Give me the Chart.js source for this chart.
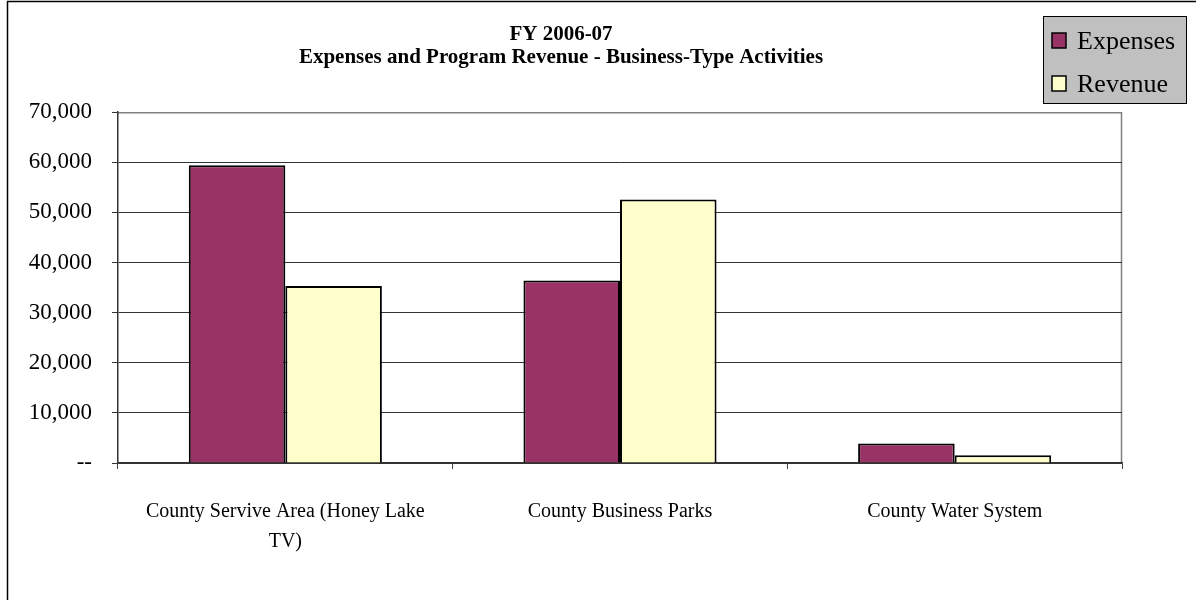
<!DOCTYPE html>
<html>
<head>
<meta charset="utf-8">
<script src="https://cdn.jsdelivr.net/npm/chart.js"></script>
<style>
  html, body { margin: 0; padding: 0; background: #fff; }
  #wrap { position: relative; width: 1196px; height: 600px; }
</style>
</head>
<body>
<div id="wrap"><canvas id="bizChart" width="1196" height="600"></canvas></div>
<script>
// data
const categories = [
  ['County Servive Area (Honey Lake', 'TV)'],
  'County Business Parks',
  'County Water System'
];
const expenses = [59400, 36400, 3900];
const revenue = [35300, 52600, 1550];
const titleLines = ['FY 2006-07', 'Expenses and Program Revenue - Business-Type Activities'];

const serif = '"Liberation Serif", "Times New Roman", serif';

// white background + outer frame
const framePlugin = {
  id: 'frame',
  beforeDraw(chart) {
    const c = chart.ctx;
    c.save();
    c.fillStyle = '#fff';
    c.fillRect(0, 0, chart.width, chart.height);
    c.strokeStyle = '#000';
    c.lineWidth = 1.5;
    c.beginPath();
    c.moveTo(7.5, chart.height);
    c.lineTo(7.5, 1.5);
    c.lineTo(chart.width, 1.5);
    c.stroke();
    // plot area border (right side, grey)
    const a = chart.chartArea;
    c.strokeStyle = '#808080';
    c.lineWidth = 1.5;
    c.beginPath();
    c.moveTo(a.left, a.top + 0.5);
    c.lineTo(a.right - 0.5, a.top + 0.5);
    c.lineTo(a.right - 0.5, a.bottom);
    c.stroke();
    c.restore();
  }
};

// boxed legend in the top right corner
const boxLegend = {
  id: 'boxLegend',
  afterDraw(chart) {
    const c = chart.ctx;
    const x = 1043, y = 16, w = 143, h = 87;
    c.save();
    c.fillStyle = '#C0C0C0';
    c.fillRect(x, y, w, h);
    c.strokeStyle = '#000';
    c.lineWidth = 1;
    c.strokeRect(x + 0.5, y + 0.5, w, h);
    c.font = '26px ' + serif;
    c.textBaseline = 'middle';
    chart.data.datasets.forEach((ds, i) => {
      const cy = 41 + i * 43;
      c.fillStyle = ds.backgroundColor;
      c.fillRect(1052, cy - 8, 14, 15);
      c.lineWidth = 1.5;
      c.strokeStyle = '#000';
      c.strokeRect(1052, cy - 8, 14, 15);
      c.fillStyle = '#000';
      c.fillText(ds.label, 1077, cy + 1);
    });
    c.restore();
  }
};

new Chart(document.getElementById('bizChart'), {
  type: 'bar',
  data: {
    labels: categories,
    datasets: [
      { label: 'Expenses', data: expenses, backgroundColor: '#993366', borderColor: '#000', borderWidth: 2 },
      { label: 'Revenue', data: revenue, backgroundColor: '#FFFFCC', borderColor: '#000', borderWidth: 2 }
    ]
  },
  options: {
    responsive: false,
    animation: false,
    events: [],
    layout: { padding: { left: 0, right: 74, top: 0, bottom: 0 } },
    datasets: { bar: { categoryPercentage: 0.577, barPercentage: 1.0 } },
    plugins: {
      legend: { display: false },
      tooltip: { enabled: false },
      title: {
        display: true,
        text: titleLines,
        color: '#000',
        font: { family: serif, size: 21, weight: 'bold', lineHeight: 1.1 },
        padding: { top: 23, bottom: 43 }
      }
    },
    scales: {
      x: {
        grid: { drawOnChartArea: false, drawTicks: true, tickLength: 6, color: '#404040', lineWidth: 1 },
        border: { color: '#333', width: 1.5 },
        ticks: {
          color: '#000',
          font: { family: serif, size: 20, lineHeight: 1.5 },
          padding: 28,
          maxRotation: 0,
          autoSkip: false
        },
        afterFit(s) { s.height = 137; }
      },
      y: {
        min: 0,
        max: 70000,
        grid: {
          color: ctx => (ctx.tick && ctx.tick.value === 70000 ? '#808080' : '#333'),
          tickColor: '#333',
          tickLength: 6,
          lineWidth: 1
        },
        border: { color: '#333', width: 1.5 },
        ticks: {
          stepSize: 10000,
          color: '#000',
          font: { family: serif, size: 23 },
          padding: 20,
          callback: v => (v === 0 ? '--' : v.toLocaleString('en-US'))
        },
        afterFit(s) { s.width = 118; }
      }
    }
  },
  plugins: [framePlugin, boxLegend]
});
</script>
</body>
</html>
